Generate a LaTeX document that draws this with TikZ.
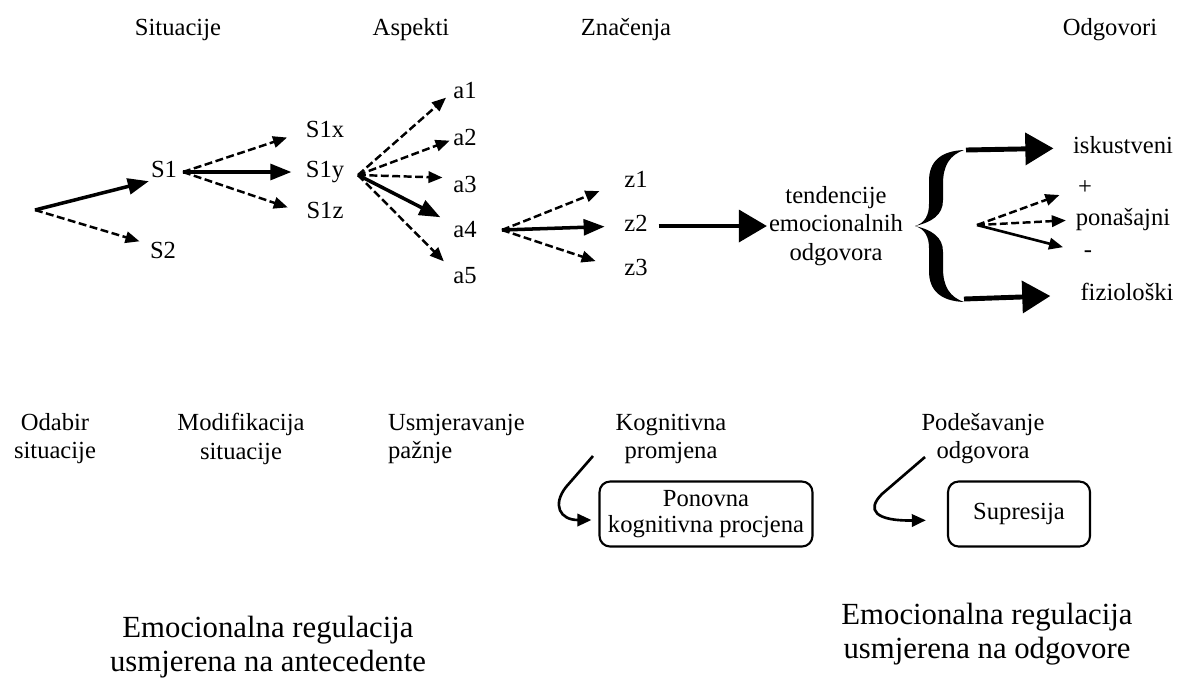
\documentclass[tikz,border=0pt]{standalone}
\usepackage{fontspec}
\setmainfont{Liberation Serif}
\usetikzlibrary{arrows,arrows.meta,positioning}

\begin{document}
\begin{tikzpicture}[x=0.02cm,y=-0.02cm,
    lbl/.style={font=\fontsize{14}{16}\selectfont, inner sep=1pt, text height=1.5ex, text depth=.25ex},
    mlbl/.style={font=\fontsize{14}{16}\selectfont, inner sep=1pt, align=center},
    bigtxt/.style={font=\fontsize{17.5}{19.5}\selectfont, align=center},
    dsh/.style={-{Triangle[length=8pt,width=6.5pt]}, line width=1.4pt, dash pattern=on 4.5pt off 2pt},
    sol/.style={-{Triangle[length=12pt,width=9pt]}, line width=2pt},
    thn/.style={-{Triangle[length=8pt,width=6.5pt]}, line width=1.5pt},
    big/.style={-{Triangle[length=16pt,width=18pt]}, line width=2.8pt},
    crv/.style={-{Triangle[length=8pt,width=7pt]}, line width=1.5pt},
    rbox/.style={draw, line width=1.2pt, rounded corners=6pt, align=center,
      font=\fontsize{14}{15}\selectfont, inner sep=2pt}]
    \useasboundingbox (0,0) rectangle (1184,681);

    \node[lbl] (hsit) at (178,30) {Situacije};
    \node[lbl] (hasp) at (411,30) {Aspekti};
    \node[lbl] (hzna) at (626,30) {Značenja};
    \node[lbl] (hodg) at (1110,30) {Odgovori};

    \node[lbl] (S1) at (164,172) {S1};
    \node[lbl] (S2) at (163,253) {S2};
    \node[lbl] (S1x) at (325,132) {S1x};
    \node[lbl] (S1y) at (325,172) {S1y};
    \node[lbl] (S1z) at (325,213) {S1z};

    \node[lbl] (a1) at (465,93) {a1};
    \node[lbl] (a2) at (465,140) {a2};
    \node[lbl] (a3) at (465,187) {a3};
    \node[lbl] (a4) at (465,232) {a4};
    \node[lbl] (a5) at (465,278) {a5};

    \node[lbl] (z1) at (636,182) {z1};
    \node[lbl] (z2) at (636,226) {z2};
    \node[lbl] (z3) at (636,270) {z3};

    \node[mlbl] (tend) at (836,226) {tendencije\\emocionalnih\\odgovora};

    \fill (915,226) .. controls (925,223) and (929,215) .. (929,204) -- (929,181)
      .. controls (929,162) and (940,151) .. (964,150)
      .. controls (950,155) and (943,165) .. (943,184) -- (943,200)
      .. controls (943,215) and (932,222) .. (915,226)
      .. controls (932,230) and (943,237) .. (943,252) -- (943,268)
      .. controls (943,287) and (950,297) .. (964,302)
      .. controls (940,301) and (929,290) .. (929,271) -- (929,248)
      .. controls (929,237) and (925,229) .. (915,226) -- cycle;
    \coordinate (btop) at (966,150);
    \coordinate (bbot) at (964,299);

    \node[lbl] (isk) at (1123,148) {iskustveni};
    \node[lbl] (plus) at (1085,189) {+};
    \node[lbl] (pon) at (1123,220) {ponašajni};
    \node[lbl] (minus) at (1088,252) {-};
    \node[lbl] (fiz) at (1127,295) {fiziološki};

    \coordinate (f0) at (35,210);
    \coordinate (fS1) at (183,172);
    \coordinate (fS1y) at (358,175);
    \coordinate (fa4) at (502,230);
    \coordinate (fpon) at (977,225);

    \draw[sol] (f0) -- (S1.south west);
    \draw[dsh, shorten >=5pt] (f0) -- (S2.north west);

    \draw[dsh, shorten >=10pt] (fS1) -- (S1x.west);
    \draw[sol, shorten >=7pt] (fS1) -- (S1y.west);
    \draw[dsh, shorten >=10pt] (fS1) -- (S1z.west);

    \draw[dsh, shorten >=4pt] (fS1y) -- (a1.west);
    \draw[dsh, shorten >=1pt] (fS1y) -- (a2.west);
    \draw[dsh, shorten >=5pt] (fS1y) -- (a3.north west);
    \draw[sol, shorten >=7pt] (fS1y) -- (a4.north west);
    \draw[dsh, shorten >=6pt] (fS1y) -- (a5.north west);

    \draw[dsh, shorten >=14pt] (fa4) -- (z1.west);
    \draw[sol, shorten >=10pt] (fa4) -- (z2.west);
    \draw[dsh, shorten >=16pt] (fa4) -- (z3.west);

    \draw[big, shorten <=5pt] (z2.east) -- (tend.west);

    \draw[big, shorten >=10pt] (btop) -- (isk.west);
    \draw[big, shorten >=16pt] (bbot) -- (fiz.west);
    \draw[dsh, shorten >=10pt] (fpon) -- (plus.west);
    \draw[dsh, shorten >=4.5pt] (fpon) -- (pon.west);
    \draw[thn, shorten >=11pt] (fpon) -- (minus.west);

    \node[mlbl] (odab) at (55,439) {Odabir\\situacije};
    \node[mlbl] (modif) at (241,439) {Modifikacija\\situacije};
    \node[mlbl, align=left, anchor=west] (usmj) at (386,439) {Usmjeravanje\\pažnje};
    \node[mlbl] (kogn) at (671,439) {Kognitivna\\promjena};
    \node[mlbl] (podes) at (983,439) {Podešavanje\\odgovora};

    \node[rbox, minimum width=4.26cm, minimum height=1.3cm] (ppc) at (706,514) {Ponovna\\kognitivna procjena};
    \node[rbox, minimum width=2.84cm, minimum height=1.3cm] (sup) at (1019,514) {Supresija};

    \coordinate (ck) at (593,456);
    \coordinate (cp) at (925,457);
    \draw[crv, shorten >=4pt] (ck) -- (566,487) .. controls (552,505) and (560,520) .. ([yshift=-0.12cm]ppc.west);
    \draw[crv, shorten >=12pt] (cp) -- (882,494) .. controls (866,510) and (875,521) .. ([yshift=-0.12cm]sup.west);

    \node[bigtxt] (emoA) at (268,647) {Emocionalna regulacija\\usmjerena na antecedente};
    \node[bigtxt] (emoB) at (987,634) {Emocionalna regulacija\\usmjerena na odgovore};
\end{tikzpicture}
\end{document}
